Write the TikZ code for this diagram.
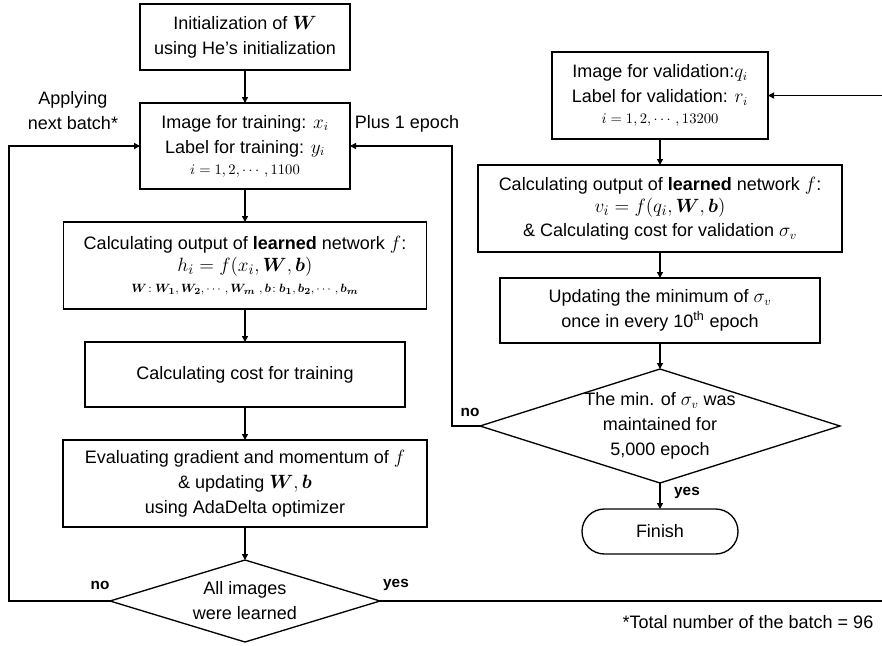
\documentclass[tikz,border=0pt]{standalone}
\usepackage{amsmath}
\usepackage{bm}
\usepackage{fontspec}
\setmainfont{Liberation Sans}
\usetikzlibrary{positioning, arrows.meta, shapes.geometric}

\begin{document}
\begin{tikzpicture}[
    x=0.75pt, y=-0.75pt,
    node distance=24.75pt,
    font=\fontsize{13.5}{18.75}\selectfont,
    box/.style={draw, line width=1pt, inner sep=0pt, outer sep=0pt, align=center},
    decision/.style={draw, diamond, line width=1pt, inner sep=0pt, outer sep=0pt},
    term/.style={draw, line width=1pt, rounded corners=16.8pt, minimum width=117pt,
                 minimum height=33.75pt, outer sep=0pt, align=center},
    arr/.style={-{Triangle[length=4.5pt, width=4.5pt]}, line width=1pt},
    yn/.style={font=\fontsize{11.5}{14}\selectfont\bfseries},
]
\useasboundingbox (0,0) rectangle (882,646);

% Left — training loop
\node[box, minimum width=157.5pt, minimum height=49.5pt] (init) at (245,37)
    {Initialization of $\bm{W}$\\using He's initialization};
\node[box, minimum width=157.5pt, minimum height=64.5pt, below=of init] (train)
    {Image for training: $x_i$\\Label for training: $y_i$\\[-3pt]
     {\fontsize{10.5}{12}\selectfont $i = 1, 2, \cdots, 1100$}};
\node[box, minimum width=272.25pt, minimum height=65.25pt, below=of train] (output)
    {Calculating output of \textbf{learned} network $f$:\\[-2pt]
     {\fontsize{15}{17}\selectfont $h_i = f(x_i, \bm{W}, \bm{b})$}\\[-3pt]
     {\fontsize{9.5}{11}\selectfont $\bm{W}\!: \bm{W_1}, \bm{W_2}, \cdots, \bm{W_m}\ , \bm{b}\!: \bm{b_1}, \bm{b_2}, \cdots, \bm{b_m}$}};
\node[box, minimum width=240pt, minimum height=48.75pt, below=of output] (cost)
    {Calculating cost for training};
\node[box, minimum width=273pt, minimum height=65.25pt, below=of cost] (update)
    {Evaluating gradient and momentum of $f$\\\& updating $\bm{W}, \bm{b}$\\using AdaDelta optimizer};
\node[decision, minimum width=202.5pt, minimum height=61.5pt, below=of update,
      label={[align=center]center:{All images\\were learned}}] (allimg) {};
\draw[arr] (init)   -- (train);
\draw[arr] (train)  -- (output);
\draw[arr] (output) -- (cost);
\draw[arr] (cost)   -- (update);
\draw[arr] (update) -- (allimg);

% Right — validation
\node[box, minimum width=162pt, minimum height=65.25pt] (valid) at (660,95.5)
    {Image for validation:$q_i$\\Label for validation: $r_i$\\[-3pt]
     {\fontsize{10.5}{12}\selectfont $i = 1, 2, \cdots, 13200$}};
\node[box, minimum width=273pt, minimum height=65.25pt, below=19.5pt of valid] (voutput)
    {Calculating output of \textbf{learned} network $f$:\\[-2pt]
     {\fontsize{15}{17}\selectfont $v_i = f(q_i, \bm{W}, \bm{b})$}\\[-1pt]
     \& Calculating cost for validation $\sigma_v$};
\node[box, minimum width=240pt, minimum height=48.75pt, below=19.5pt of voutput] (minimum)
    {Updating the minimum of $\sigma_v$\\once in every 10\textsuperscript{th} epoch};
\node[decision, minimum width=270pt, minimum height=85.5pt, below=19.5pt of minimum,
      label={[align=center]center:{The min. of $\sigma_v$ was\\maintained for\\5,000 epoch}}] (stop) {};
\node[term, below=19.5pt of stop] (finish) {Finish};
\draw[arr] (valid)   -- (voutput);
\draw[arr] (voutput) -- (minimum);
\draw[arr] (minimum) -- (stop);
\draw[arr] (stop)    -- (finish);

% Loops
\coordinate (nbL) at (9,600);
\coordinate (epR) at (452,427);
\coordinate (ysR) at (892,600);
\draw[arr] (allimg.west) -- (allimg.west -| nbL) |- (train.west);
\draw[arr] (stop.west) -- (stop.west -| epR) |- (train.east);
\draw[arr] (allimg.east) -- (allimg.east -| ysR) |- (valid.east);

% Labels
\node[align=center] (nbtxt) at (73,111) {Applying\\next batch*};
\node (eptxt) at (407,124) {Plus 1 epoch};
\node[yn] (no1)  at (100,585) {no};
\node[yn] (yes1) at (396,585) {yes};
\node[yn] (no2)  at (470,412) {no};
\node[yn] (yes2) at (687,493) {yes};
\node[anchor=east] (note) at (878,622) {*Total number of the batch = 96};
\end{tikzpicture}
\end{document}
